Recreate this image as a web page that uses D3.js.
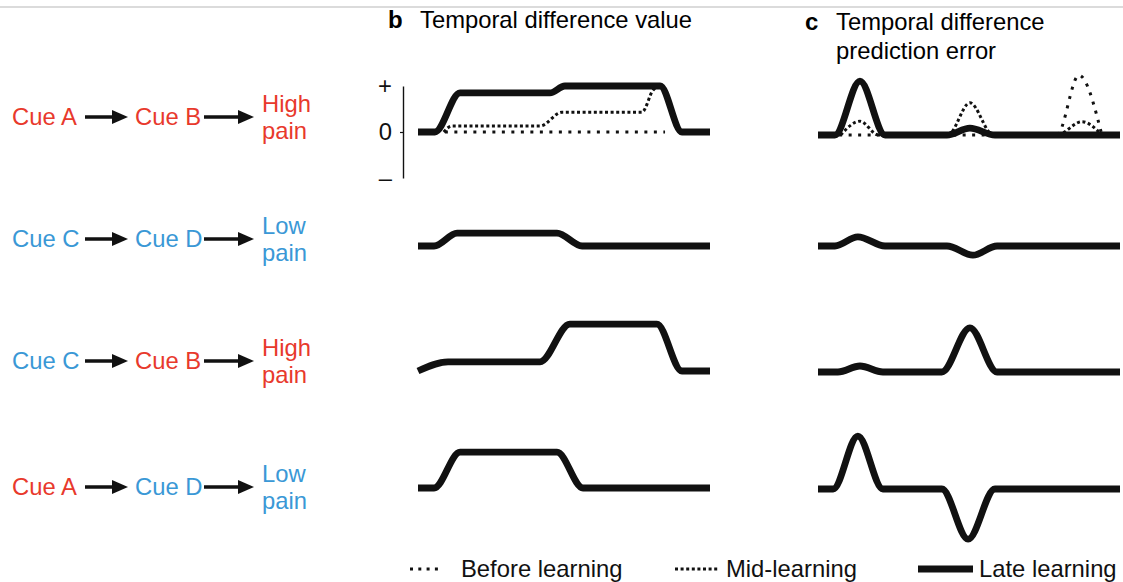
<!DOCTYPE html>
<html><head><meta charset="utf-8">
<script src="https://cdn.jsdelivr.net/npm/d3@7"></script>
<style>
body{margin:0;background:#fff}
svg{display:block}
text{font-family:"Liberation Sans",Arial,Helvetica,sans-serif}
</style>
</head><body>
<svg id="chart" width="1123" height="582"></svg>
<script>
// ---------------- DATA ----------------
const firstCues  = ["Cue A", "Cue C", "Cue C", "Cue A"];
const secondCues = ["Cue B", "Cue D", "Cue B", "Cue D"];
const outcomes   = [["High","pain"], ["Low","pain"], ["High","pain"], ["Low","pain"]];

// Panel b: temporal difference value, late learning (time 0-100, value units)
const valueLate = [
  [[0,0],[5.8,0],[14.4,0.85],[45.2,0.85],[50.3,1.0],[82.9,1.0],[90.4,0],[100,0]],
  [[0,0],[5.5,0],[13.4,0.28],[47.6,0.28],[56.2,0],[100,0]],
  [[0,0],[10.3,0.2],[41.8,0.2],[52,1.02],[81.8,1.02],[90.4,0],[100,0]],
  [[0,0],[5.5,0],[14.4,0.78],[47.6,0.78],[56.5,0],[100,0]]
];
const valueMid    = [[8.8,0],[11.6,0.13],[41.8,0.13],[49.3,0.43],[76.7,0.43],[80.5,0.91],[82.9,1.0]];
const valueBefore = [[9.2,0],[84.6,0]];

// Panel c: temporal difference prediction error
const errorLate = [
  [[0,0],[5.6,0],[13.9,1.17],[22.2,0],[42.7,0],[50.3,0.15],[58.6,0],[100,0]],
  [[0,0],[5.6,0],[13.2,0.2],[22.2,0],[42.7,0],[51.3,-0.2],[59.3,0],[100,0]],
  [[0,0],[6.6,0],[13.9,0.13],[21.5,0],[41,0],[50.3,0.96],[59.3,0],[100,0]],
  [[0,0],[5,0],[13.2,1.15],[21.5,0],[41,0],[49.7,-1.09],[58.6,0],[100,0]]
];
const errorMid    = [[7.5,0],[13.9,0.3],[20,0],[43,0],[50.3,0.7],[58,0],[79.1,0],[87.4,0.29],[94,0]];
const errorBefore = [[7,0],[79.1,0],[86.4,1.3],[94,0]];

const axisTicks = [1, 0, -1];
const axisTickLabels = ["+", "0", "\u2013"];
const legendLabels = ["Before learning", "Mid-learning", "Late learning"];

// ---------------- LAYOUT ----------------
const RED = "#e8392c", BLUE = "#3a98d6", INK = "#111";
const colorOf = t => (/Cue A|Cue B|High/.test(t) ? RED : BLUE);
const rowCenter = [117, 239, 361, 487];
const zeroB = [132, 246, 371, 488];
const zeroC = [135, 246, 372, 489];
const FS = 23.8;

const svg = d3.select("#chart");

// top rule (cropped header)
svg.append("line").attr("x1",0).attr("x2",1123).attr("y1",7).attr("y2",7)
  .attr("stroke","#cfcfcf").attr("stroke-width",1.5);

// headers
svg.append("text").attr("x",388).attr("y",28).attr("font-size",24).attr("font-weight","bold").text("b");
svg.append("text").attr("x",420).attr("y",28).attr("font-size",FS).text("Temporal difference value");
svg.append("text").attr("x",805).attr("y",30).attr("font-size",24).attr("font-weight","bold").text("c");
svg.append("text").attr("x",836).attr("y",30).attr("font-size",FS).text("Temporal difference");
svg.append("text").attr("x",836).attr("y",59).attr("font-size",FS).text("prediction error");

// arrow helper
function arrow(g, x1, x2, y){
  g.append("line").attr("x1",x1).attr("x2",x2-12).attr("y1",y).attr("y2",y)
    .attr("stroke",INK).attr("stroke-width",3.5);
  g.append("path").attr("d",`M${x2-16},${y-7}L${x2},${y}L${x2-16},${y+7}Z`).attr("fill",INK);
}

// left column
const left = svg.append("g");
rowCenter.forEach((cy,i)=>{
  left.append("text").attr("x",12).attr("y",cy+8).attr("font-size",FS)
    .attr("fill",colorOf(firstCues[i])).text(firstCues[i]);
  arrow(left, 85, 128, cy);
  left.append("text").attr("x",135).attr("y",cy+8).attr("font-size",FS)
    .attr("fill",colorOf(secondCues[i])).text(secondCues[i]);
  arrow(left, 204, 254, cy);
  const c = colorOf(outcomes[i][0]);
  left.append("text").attr("x",262).attr("y",cy-5).attr("font-size",FS).attr("fill",c).text(outcomes[i][0]);
  left.append("text").attr("x",262).attr("y",cy+22).attr("font-size",FS).attr("fill",c).text(outcomes[i][1]);
});

// scales
const xB = d3.scaleLinear().domain([0,100]).range([418,710]);
const xC = d3.scaleLinear().domain([0,100]).range([818,1120]);
const yUnit = d3.scaleLinear().domain([-1,1]).range([46,-46]);

const lineB = d3.line().x(d=>xB(d[0])).y(d=>yUnit(d[1])).curve(d3.curveMonotoneX);
const lineC = d3.line().x(d=>xC(d[0])).y(d=>yUnit(d[1])).curve(d3.curveMonotoneX);

const styles = {
  before: {w:3, dash:"3,6.5"},
  mid:    {w:3, dash:"3,2.6"},
  late:   {w:6.8, dash:null}
};
function drawLine(g, gen, data, st){
  const p = g.append("path").attr("d", gen(data)).attr("fill","none")
    .attr("stroke",INK).attr("stroke-width",st.w).attr("stroke-linejoin","round");
  if (st.dash) p.attr("stroke-dasharray", st.dash);
  return p;
}

// panel b
valueLate.forEach((d,i)=>{
  const g = svg.append("g").attr("transform",`translate(0,${zeroB[i]})`);
  if (i===0){
    const axScale = d3.scaleLinear().domain([-1,1]).range([46,-46]);
    const ax = g.append("g").attr("transform","translate(403,0)")
      .call(d3.axisLeft(axScale).tickValues(axisTicks).tickSize(3).tickSizeOuter(0)
        .tickFormat((v,k)=>axisTickLabels[k]));
    ax.select(".domain").attr("stroke",INK).attr("stroke-width",1.4);
    ax.selectAll(".tick line").attr("stroke",INK).attr("stroke-width",1.2)
      .attr("opacity",(v)=>v===0?1:0);
    ax.selectAll(".tick text").attr("font-size",FS).attr("font-family","Liberation Sans, Arial, sans-serif")
      .attr("x",-11).attr("fill",INK);
    drawLine(g, lineB, valueBefore, styles.before);
    drawLine(g, lineB, valueMid, styles.mid);
  }
  drawLine(g, lineB, d, styles.late);
});

// panel c
errorLate.forEach((d,i)=>{
  const g = svg.append("g").attr("transform",`translate(0,${zeroC[i]})`);
  if (i===0){
    drawLine(g, lineC, errorBefore, styles.before);
    drawLine(g, lineC, errorMid, styles.mid);
  }
  drawLine(g, lineC, d, styles.late);
});

// legend
const lg = svg.append("g").attr("transform","translate(0,569)");
const legendItems = [
  {x1:410, x2:438, tx:461, st:{w:3,dash:"3,5.3"}},
  {x1:675, x2:719, tx:726, st:styles.mid},
  {x1:918, x2:973, tx:979, st:{w:7,dash:null}}
];
legendItems.forEach((it,k)=>{
  const l = lg.append("line").attr("x1",it.x1).attr("x2",it.x2).attr("y1",0).attr("y2",0)
    .attr("stroke",INK).attr("stroke-width",it.st.w);
  if (it.st.dash) l.attr("stroke-dasharray",it.st.dash);
  lg.append("text").attr("x",it.tx).attr("y",8).attr("font-size",FS).attr("fill",INK).text(legendLabels[k]);
});
</script>
</body></html>
